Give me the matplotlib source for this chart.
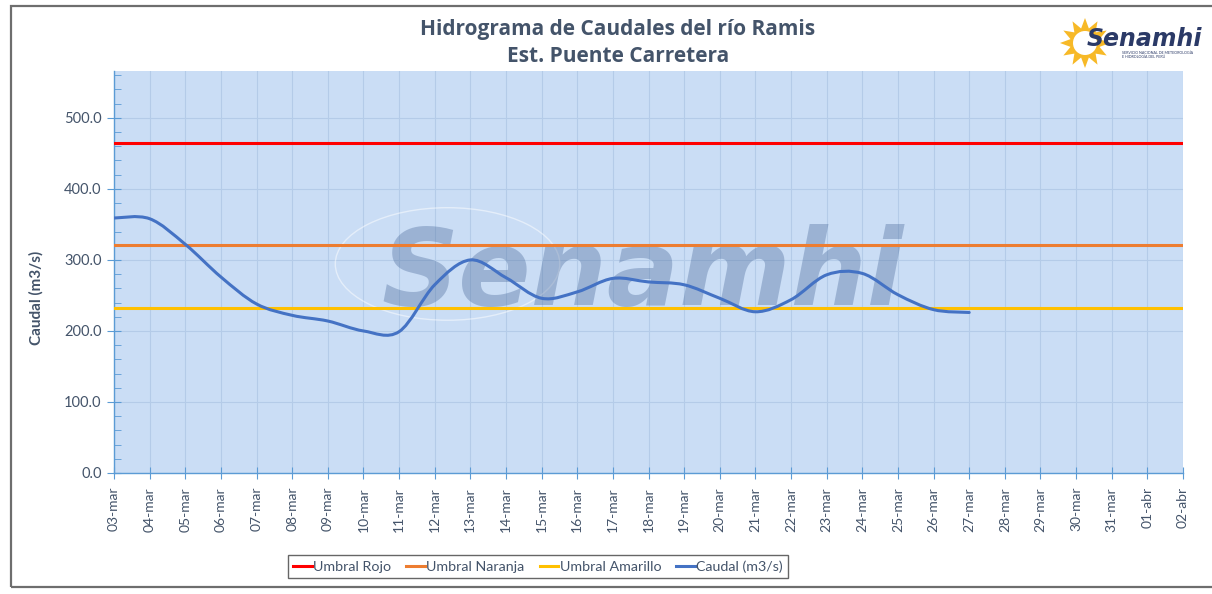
"""
Hidrograma de Caudales del rio Ramis - Est. Puente Carretera
"""

import numpy as np
import matplotlib
matplotlib.use('Agg')
import matplotlib.pyplot as plt
from matplotlib.path import Path
from matplotlib.patches import PathPatch, Rectangle, Ellipse, Polygon, Circle
from matplotlib.lines import Line2D

plt.rcParams['font.family'] = ['Lato', 'DejaVu Sans']

# Data
fechas = [f'{d:02d}-mar' for d in range(3, 32)] + ['01-abr', '02-abr']
caudal = [359, 358, 322, 276, 238, 222, 214, 200, 199, 265, 300, 275, 246,
          255, 274, 269, 265, 246, 227, 244, 279, 281, 251, 230, 226]
umbral_rojo = 465
umbral_naranja = 321
umbral_amarillo = 232

TEXT = '#44546A'
AXIS = '#5B9BD5'


def smooth_path(x, y):
    """Bezier path through the points, similar to Excel's smoothed line"""
    pts = np.column_stack([x, y]).astype(float)
    n = len(pts)
    verts = [pts[0]]
    codes = [Path.MOVETO]
    for i in range(n - 1):
        p0 = pts[max(i - 1, 0)]
        p1 = pts[i]
        p2 = pts[i + 1]
        p3 = pts[min(i + 2, n - 1)]
        verts += [p1 + (p2 - p0) / 6, p2 - (p3 - p1) / 6, p2]
        codes += [Path.CURVE4] * 3
    return Path(verts, codes)


fig = plt.figure(figsize=(12.12, 5.94), dpi=100)
ax = fig.add_axes([114 / 1212, 1 - 473 / 594, 1069 / 1212, 402 / 594])
ax.set_facecolor('#CADDF5')

# outer frame (open on the right)
fig.add_artist(Rectangle((11 / 1212, 7 / 594), 1.5, 581 / 594,
                         transform=fig.transFigure, fill=False,
                         ec='#6E6E6E', lw=1.6))

# watermark
ax.add_patch(Ellipse((0.312, 0.52), 0.21, 0.28, transform=ax.transAxes,
                     fill=False, ec='white', lw=1.0, alpha=0.5, zorder=1))
ax.text(0.494, 0.418, 'Senamhi', transform=ax.transAxes, ha='center',
        va='baseline', fontsize=77, fontweight='bold', style='italic',
        family='DejaVu Sans', color='#4F6E9E', alpha=0.38, zorder=1)

# thresholds
ax.axhline(umbral_rojo, color='#FF0000', lw=2.2, zorder=3)
ax.axhline(umbral_naranja, color='#ED7D31', lw=2.2, zorder=3)
ax.axhline(umbral_amarillo, color='#FFC000', lw=2.2, zorder=3)

# caudal
x = np.arange(len(caudal))
ax.add_patch(PathPatch(smooth_path(x, caudal), fill=False, ec='#4472C4',
                       lw=2.2, zorder=4, capstyle='round'))

ax.set_xlim(0, len(fechas) - 1)
ax.set_ylim(0, 566)
ax.set_xticks(range(len(fechas)))
ax.set_xticklabels(fechas, rotation=90, fontsize=10, color=TEXT)
ax.set_yticks(range(0, 501, 100))
ax.set_yticklabels([f'{v:.1f}' for v in range(0, 501, 100)],
                   fontsize=10.5, color=TEXT)
ax.set_yticks(range(0, 561, 20), minor=True)
ax.tick_params(axis='y', which='major', direction='inout', length=10,
               color=AXIS, pad=4)
ax.tick_params(axis='y', which='minor', direction='in', length=5, color=AXIS)
ax.tick_params(axis='x', which='major', direction='inout', length=8,
               color=AXIS, pad=6)
ax.grid(True, which='major', color='#B4CBE8', lw=0.8, zorder=0)
ax.set_axisbelow(True)
for side in ['top', 'right']:
    ax.spines[side].set_visible(False)
for side in ['left', 'bottom']:
    ax.spines[side].set_color(AXIS)
    ax.spines[side].set_linewidth(1.0)

ax.set_ylabel('Caudal (m3/s)', fontsize=11, fontweight='bold', color=TEXT)
ax.yaxis.set_label_coords(-0.066, 0.435)

# title
fig.text(618 / 1212, 1 - 29 / 594, 'Hidrograma de Caudales del río Ramis',
         ha='center', va='center', fontsize=15, fontweight='bold',
         family='Open Sans', color=TEXT)
fig.text(618 / 1212, 1 - 57 / 594, 'Est. Puente Carretera',
         ha='center', va='center', fontsize=15, fontweight='bold',
         family='Open Sans', color=TEXT)

# legend
handles = [Line2D([], [], color='#FF0000', lw=2.2),
           Line2D([], [], color='#ED7D31', lw=2.2),
           Line2D([], [], color='#FFC000', lw=2.2),
           Line2D([], [], color='#4472C4', lw=2.2)]
labels = ['Umbral Rojo', 'Umbral Naranja', 'Umbral Amarillo', 'Caudal (m3/s)']
leg = fig.legend(handles, labels, loc='center', ncol=4,
                 bbox_to_anchor=(538 / 1212, 1 - 566.5 / 594),
                 fontsize=10.3, frameon=True, fancybox=False,
                 handlelength=1.3, handletextpad=0.1, columnspacing=1.05,
                 borderpad=0.35)
leg.get_frame().set_edgecolor('#404040')
leg.get_frame().set_linewidth(1.0)
for t in leg.get_texts():
    t.set_color(TEXT)

# logo
lax = fig.add_axes([1060 / 1212, 1 - 70 / 594, 150 / 1212, 56 / 594])
lax.set_xlim(0, 150)
lax.set_ylim(56, 0)
lax.axis('off')
ang = np.linspace(0, 2 * np.pi, 25)[:-1]
rad = np.where(np.arange(24) % 2 == 0, 25, 15)
lax.add_patch(Polygon(np.column_stack([25 + rad * np.cos(ang),
                                       29 + rad * np.sin(ang)]),
                      closed=True, fc='#F7B927', ec='none'))
lax.add_patch(Circle((25, 29), 12, fc='white', ec='none'))
lax.text(27, 32, 'Senamhi', ha='left', va='baseline', fontsize=17,
         fontweight='bold', style='italic', family='DejaVu Sans',
         color='#2B3A67')
lax.text(62, 37, 'SERVICIO NACIONAL DE METEOROLOGÍA\nE HIDROLOGÍA DEL PERÚ',
         ha='left', va='top', fontsize=2.6, color='#2B3A67', linespacing=1.1)

fig.savefig('out.png', dpi=100)
